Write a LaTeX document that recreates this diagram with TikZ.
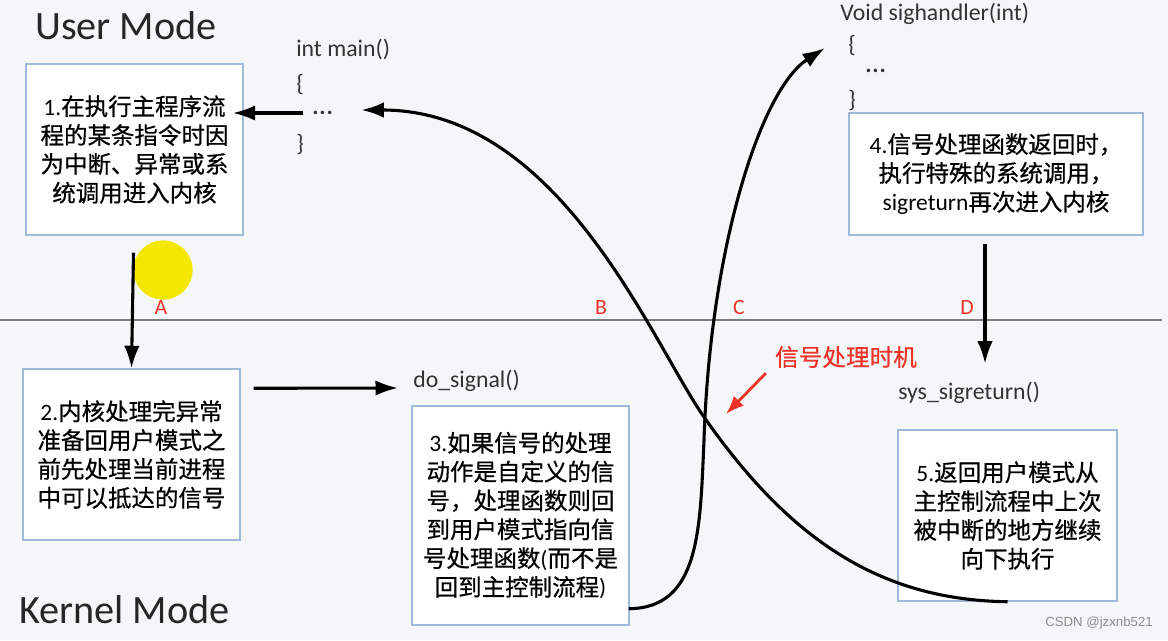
\documentclass[tikz,border=0pt]{standalone}
\usepackage{fontspec}
\setmainfont{Carlito}
\newfontfamily\cjk[FakeBold=0.6]{Noto Sans CJK SC}
\newfontfamily\wmark{Liberation Sans}
\usetikzlibrary{positioning,arrows.meta,calc}
\definecolor{paper}{RGB}{244,246,248}
\definecolor{boxline}{RGB}{160,186,218}
\definecolor{hint}{RGB}{238,52,42}
\definecolor{rule}{RGB}{125,125,125}
\definecolor{hilite}{RGB}{245,232,0}
\tikzset{
  box/.style  ={draw=boxline, line width=1pt, fill=white, inner sep=0pt,
                align=center, font=\cjk\fontsize{16.7}{20.5}\selectfont},
  code/.style ={font=\fontsize{16.9}{20}\selectfont, inner sep=0pt, text=black!80},
  mode/.style ={font=\fontsize{28.6}{33}\selectfont, inner sep=0pt,
                anchor=base west, text=black!85},
  spot/.style ={font=\fontsize{15.5}{18}\selectfont, inner sep=0pt, text=hint},
  fl/.style   ={-{Latex[length=16pt,width=11pt]}, line width=2.2pt},
  redfl/.style={-{Latex[length=13pt,width=10pt]}, line width=2pt, draw=hint},
  split/.style={draw=rule, line width=1.4pt}
}
\newcommand{\latn}[1]{{\rmfamily #1}}
\newcommand{\ddd}{\textbf{.\kern0.6pt.\kern0.6pt.}}

\begin{document}
\begin{tikzpicture}[x=0.025cm, y=-0.025cm]
  \fill[paper] (0,0) rectangle (1168,640);
  \useasboundingbox (0,0) rectangle (1168,640);
  \draw[split] (0,320) -- (1162,320);
  \fill[hilite] (163,270) circle (0.74cm);

  \node[mode] (user) at (35,39) {User Mode};
  \node[mode] (kern) at (19,623) {Kernel Mode};

  % user mode side
  \node[box, minimum width=5.425cm, minimum height=4.275cm] (s1) at (134.5,149.5)
       {\latn{1.}在执行主程序流\\程的某条指令时因\\为中断、异常或系\\统调用进入内核};
  \node[code, anchor=base west] (mainsig) at (296,56) {int main()};
  \node[code, anchor=west] (mainlb) at (296,85) {\{};
  \node[code, anchor=west] (maindots) at (312,113) {\ddd};
  \node[code, anchor=west] (mainrb) at (296,145) {\}};

  \node[code, anchor=base west] (handsig) at (840,20) {Void sighandler(int)};
  \node[code, anchor=west] (handlb) at (848,46) {\{};
  \node[code, anchor=west] (handdots) at (865,71) {\ddd};
  \node[code, anchor=west] (handrb) at (848,101) {\}};
  \node[box, minimum width=7.35cm, minimum height=3.05cm] (s4) at (996,174)
       {\latn{4.}信号处理函数返回时，\\执行特殊的系统调用，\\\latn{sigreturn}再次进入内核};

  % kernel mode side
  \node[box, minimum width=5.425cm, minimum height=4.275cm] (s2) at (131.5,454.5)
       {\latn{2.}内核处理完异常\\准备回用户模式之\\前先处理当前进程\\中可以抵达的信号};
  \node[code, anchor=base west] (dosig) at (413,387) {do\_signal()};
  \node[box, minimum width=5.425cm, minimum height=5.475cm] (s3) at (520.5,515.5)
       {\latn{3.}如果信号的处理\\动作是自定义的信\\号，处理函数则回\\到用户模式指向信\\号处理函数\latn{(}而不是\\回到主控制流程\latn{)}};
  \node[code, anchor=base west] (sysret) at (898,399) {sys\_sigreturn()};
  \node[box, minimum width=5.475cm, minimum height=4.275cm] (s5) at (1007.5,515.5)
       {\latn{5.}返回用户模式从\\主控制流程中上次\\被中断的地方继续\\向下执行};

  % switch points
  \node[spot] (ptA) at (161,307) {A};
  \node[spot] (ptB) at (601,307) {B};
  \node[spot] (ptC) at (739,307) {C};
  \node[spot] (ptD) at (967,307) {D};
  \node[spot, font=\cjk\fontsize{16.8}{20}\selectfont] (when) at (846,357) {信号处理时机};
  \coordinate (hit) at (726,414);

  \draw[fl] ($(s1.south)+(-1,17)$) -- (s2.north);
  \draw[fl] ($(maindots.west)+(-9,0)$) -- ($(s1.east |- maindots.west)+(-11,0)$);
  \draw[fl] ($(s2.north east)+(13,20)$) -- ($(dosig.base west)+(-15,1)$);
  \draw[fl] (s5.south) .. controls (880,600) and (790,540) .. (704,417)
            .. controls (652,343) and (560,110) .. ($(maindots.east)+(28,-3)$);
  \draw[fl] ($(s3.south east)+(-1,-17)$) .. controls (700,608) and (700,530) .. (704,440)
            .. controls (710,250) and (760,90) .. ($(handlb.west)+(-23,2)$);
  \draw[fl] ($(s4.south)+(-11,8)$) -- ($(s4.south)+(-11,128)$);
  \draw[redfl] ($(when.south west)+(-9,5)$) -- (hit);

  \node[font=\wmark\fontsize{9.4}{11}\selectfont, text=black!45, anchor=east,
        inner sep=0pt] (wm) at (1153,623) {CSDN @jzxnb521};
\end{tikzpicture}
\end{document}
